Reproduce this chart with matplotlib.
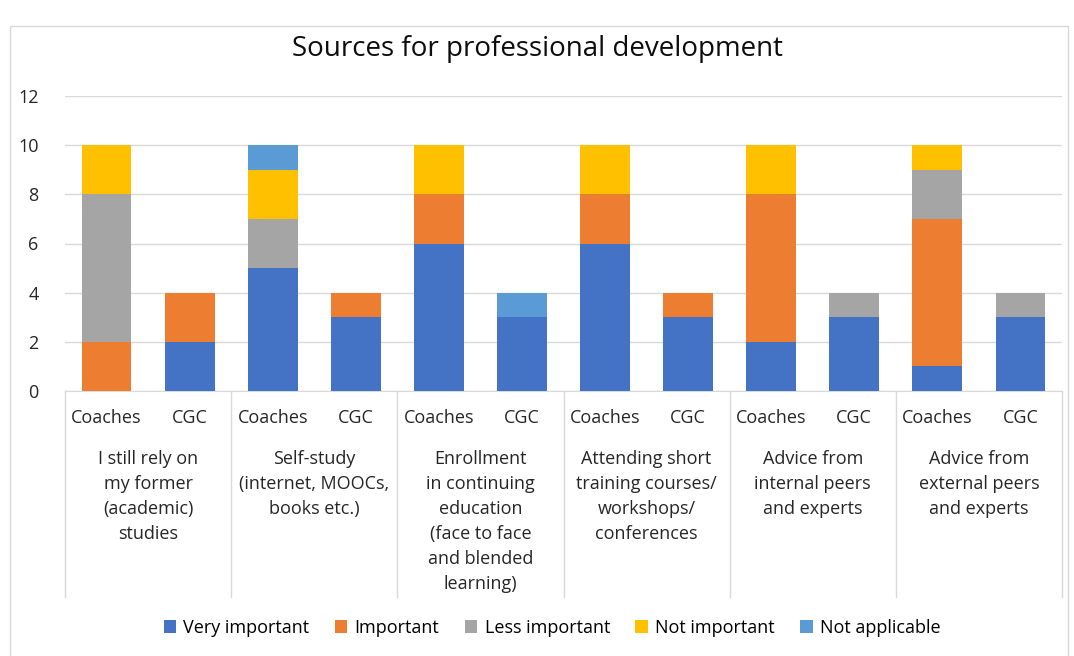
import matplotlib.pyplot as plt
from matplotlib.patches import FancyBboxPatch
from matplotlib.transforms import blended_transform_factory

plt.rcParams['font.family'] = ['Open Sans', 'DejaVu Sans']

groups = ["I still rely on\nmy former\n(academic)\nstudies",
          "Self-study\n(internet, MOOCs,\nbooks etc.)",
          "Enrollment\nin continuing\neducation\n(face to face\nand blended\nlearning)",
          "Attending short\ntraining courses/\nworkshops/\nconferences",
          "Advice from\ninternal peers\nand experts",
          "Advice from\nexternal peers\nand experts"]
subs = ["Coaches", "CGC"]

series = ["Very important", "Important", "Less important", "Not important", "Not applicable"]
colors = ["#4472C4", "#ED7D31", "#A5A5A5", "#FFC000", "#5B9BD5"]

# order: Coaches, CGC for each group
very_important = [0, 2, 5, 3, 6, 3, 6, 3, 2, 3, 1, 3]
important      = [2, 2, 0, 1, 2, 0, 2, 1, 6, 0, 6, 0]
less_important = [6, 0, 2, 0, 0, 0, 0, 0, 0, 1, 2, 1]
not_important  = [2, 0, 2, 0, 2, 0, 2, 0, 2, 0, 1, 0]
not_applicable = [0, 0, 1, 0, 0, 1, 0, 0, 0, 0, 0, 0]
data = [very_important, important, less_important, not_important, not_applicable]

fig = plt.figure(figsize=(10.74, 6.56), dpi=100)
fig.patches.append(FancyBboxPatch((10 / 1074, -0.02), 1058 / 1074, 0.995 - 10 / 656,
                                  boxstyle="square,pad=0", transform=fig.transFigure,
                                  fill=False, edgecolor="#D9D9D9", linewidth=1))
ax = fig.add_axes([65 / 1074, 1 - 391 / 656, (1062 - 65) / 1074, (391 - 96) / 656])

x = list(range(len(very_important)))
bottom = [0] * len(x)
for name, vals, c in zip(series, data, colors):
    ax.bar(x, vals, 0.6, bottom=bottom, color=c, label=name, zorder=3)
    bottom = [b + v for b, v in zip(bottom, vals)]

ax.set_xlim(-0.5, len(x) - 0.5)
ax.set_ylim(0, 12)
ax.set_yticks(range(0, 13, 2))
ax.tick_params(axis='y', length=0, labelsize=13, pad=19, colors="#262626")
ax.set_xticks([])
ax.grid(axis='y', color="#D9D9D9", linewidth=1, zorder=0)
for s in ["top", "right", "left"]:
    ax.spines[s].set_visible(False)
ax.spines["bottom"].set_color("#D9D9D9")

trans = blended_transform_factory(ax.transData, ax.transAxes)
for i in x:
    ax.text(i, -27 / 295, subs[i % 2], transform=trans, ha='center', va='center',
            fontsize=13, color="#262626")
for g, label in enumerate(groups):
    ax.text(2 * g + 0.5, -59 / 295, label, transform=trans, ha='center', va='top',
            fontsize=13, color="#262626", linespacing=1.5)
for g in range(len(groups) + 1):
    ax.plot([2 * g - 0.5, 2 * g - 0.5], [0, -206 / 295], transform=trans,
            color="#D9D9D9", linewidth=1, clip_on=False)

fig.text(0.5, 1 - 49 / 656, "Sources for professional development", ha='center',
         va='center', fontsize=20, color="#0D0D0D")
fig.legend(loc='center', bbox_to_anchor=(552 / 1074, 1 - 628 / 656), ncol=5,
           frameon=False, fontsize=13, handlelength=0.7, handleheight=0.7,
           handletextpad=0.4, columnspacing=1.4)

fig.savefig("out.png", dpi=100)
